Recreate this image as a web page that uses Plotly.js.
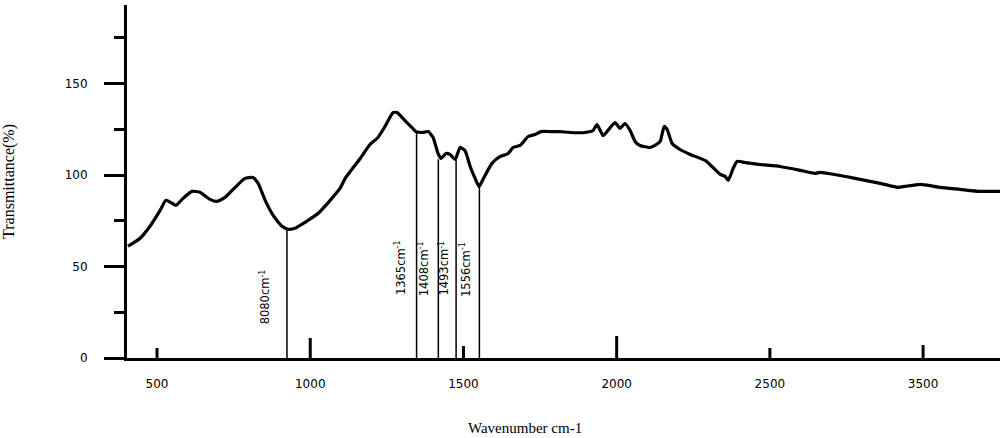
<!DOCTYPE html>
<html>
<head>
<meta charset="utf-8">
<script src="https://cdn.plot.ly/plotly-3.0.1.min.js"></script>
<style>html,body{margin:0;padding:0;background:#fff;}#chart{width:1003px;height:438px;}</style>
</head>
<body>
<div id="chart"></div>
<script>
// Wavenumber (cm-1) along the drawn axis scale
const wavenumber = [405,445,477,510,529,549,562,585,614,640,673,696,722,755,787,813,830,853,879,908,928,950,983,1026,1065,1097,1114,1163,1195,1221,1244,1270,1283,1309,1332,1345,1365,1385,1401,1417,1427,1443,1456,1473,1489,1505,1522,1538,1551,1567,1593,1620,1646,1662,1685,1711,1734,1753,1783,1815,1848,1897,1923,1936,1956,1979,1995,2011,2027,2044,2060,2076,2109,2125,2142,2155,2165,2181,2207,2240,2289,2311,2338,2354,2364,2380,2393,2419,2468,2533,2599,2648,2664,2729,2778,2860,2918,2941,2990,3056,3121,3186,3251];
const transmittance = [61.1,65.5,72.0,80.7,86.2,84.6,83.5,87.3,91.1,90.6,86.7,85.6,87.8,93.3,98.2,98.7,95.5,86.2,78.0,72.0,70.4,70.9,74.2,79.1,86.2,92.7,98.2,109.1,116.7,120.6,126.6,134.2,134.2,129.8,126.0,123.8,123.3,123.8,120.6,111.8,109.1,111.8,111.3,108.6,115.1,113.5,104.7,98.2,93.8,98.7,106.4,110.2,111.8,115.1,116.2,121.1,122.2,123.8,123.8,123.8,123.3,123.3,124.4,127.6,121.6,126.0,128.7,125.5,128.2,124.4,118.4,116.2,115.1,116.2,118.4,126.6,124.9,117.3,114.0,111.3,108.0,104.7,100.4,99.3,97.1,103.6,107.5,106.9,105.8,104.7,102.6,100.9,101.5,99.8,98.2,95.5,93.3,93.8,94.9,93.3,92.2,91.1,91.1];

// Marked peaks
const peakLabels = ["8080cm<sup>-1</sup>","1365cm<sup>-1</sup>","1408cm<sup>-1</sup>","1493cm<sup>-1</sup>","1556cm<sup>-1</sup>"];
const peakPositions = [924,1347,1418,1476,1552];
const peakTops = [70.9,123.6,108.6,108.2,93.6];

// Axis ticks
const xTickVals = [500,1000,1500,2000,2500,3000];
const xTickText = ["500","1000","1500","2000","2500","3500"];
const yTickVals = [0,50,100,150];
const yTickText = ["0","50","100","150"];

// peak marker lines built from the peak arrays
const lx = [], ly = [];
peakPositions.forEach((p,i)=>{ lx.push(p,p,null); ly.push(0,peakTops[i],null); });

const traces = [
  {x: lx, y: ly, mode:'lines', line:{color:'#000', width:1.5}, hoverinfo:'skip', showlegend:false},
  {x: wavenumber, y: transmittance, mode:'lines', line:{color:'#000', width:3.2, shape:'spline', smoothing:0.5}, showlegend:false}
];

const xTickHeights = [10,20,12,22,10,13];
const shapes = xTickVals.map((v,i)=>({
  type:'line', xref:'x', yref:'y', x0:v, x1:v,
  ysizemode:'pixel', yanchor:0, y0:0, y1:xTickHeights[i],
  line:{color:'#000', width:3}
}));

const labelY = [33.4,49.2,49.0,49.2,48.6];
const labelGap = [12,7,5,3,5];
const annotations = peakLabels.map((t,i)=>({
  text:t, x:peakPositions[i], y:labelY[i], xref:'x', yref:'y',
  xanchor:'right', yanchor:'middle', xshift:-labelGap[i], textangle:-90,
  showarrow:false, font:{family:'DejaVu Sans, Verdana, sans-serif', size:11.5, color:'#000'}
}));
annotations.push({
  text:'Wavenumber cm-1', xref:'paper', yref:'paper', x:(525-127)/873, y:-70/353,
  xanchor:'center', yanchor:'middle', showarrow:false,
  font:{family:'Liberation Serif, Times New Roman, serif', size:15, color:'#000'}
});

const layout = {
  width:1003, height:438,
  margin:{l:127, r:3, t:5, b:80},
  paper_bgcolor:'#fff', plot_bgcolor:'#fff',
  showlegend:false,
  xaxis:{
    range:[402,3251], showgrid:false, zeroline:false,
    showline:true, linecolor:'#000', linewidth:3,
    tickvals:xTickVals, ticktext:xTickText, ticks:'',
    ticklabelstandoff:13,
    tickfont:{family:'DejaVu Sans, Verdana, sans-serif', size:12, color:'#000'}
  },
  yaxis:{
    range:[0,193], showgrid:false, zeroline:false,
    showline:true, linecolor:'#000', linewidth:3,
    tickvals:yTickVals, ticktext:yTickText,
    ticks:'outside', ticklen:20, tickwidth:3, tickcolor:'#000',
    minor:{tickvals:[25,75,125,175], ticks:'outside', ticklen:10, tickwidth:3, tickcolor:'#000', showgrid:false},
    ticklabelstandoff:14,
    tickfont:{family:'DejaVu Sans, Verdana, sans-serif', size:12, color:'#000'},
    title:{text:'Transmittance(%)', standoff:48, font:{family:'Liberation Serif, Times New Roman, serif', size:16, color:'#000'}}
  },
  shapes:shapes,
  annotations:annotations
};

Plotly.newPlot('chart', traces, layout, {staticPlot:true, displayModeBar:false});
</script>
</body>
</html>
